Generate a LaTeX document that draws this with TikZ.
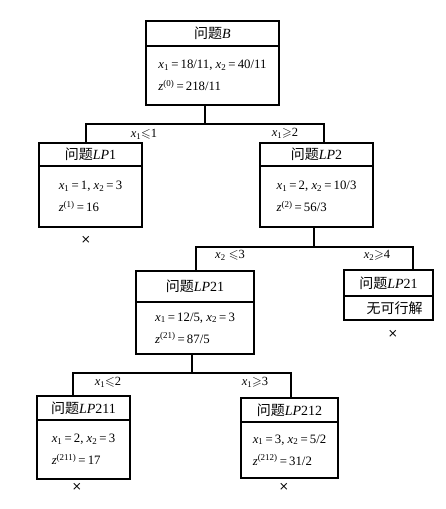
\documentclass[tikz,border=0pt]{standalone}
\usepackage{fontspec}
\usepackage{amssymb}
\setmainfont{Liberation Serif}
\newfontfamily\cjk{Noto Sans CJK SC}
\newfontfamily\djsans{DejaVu Sans}
\newcommand{\vx}[1]{\textit{x}\textsubscript{#1}}
\newcommand{\vz}[1]{\textit{z}\textsuperscript{(#1)}}
\newcommand{\eqs}{\,=\,}
\newcommand{\wt}{{\cjk 问题}}
\begin{document}
\begin{tikzpicture}[x=1pt,y=-1pt,
  box/.style={draw, line width=1.1pt, inner sep=0pt, font=\fontsize{14}{22}\selectfont},
  body/.style={box, align=left, font=\fontsize{12.8}{22}\selectfont},
  link/.style={line width=1.1pt},
  lab/.style={inner sep=0pt, font=\fontsize{12.5}{14}\selectfont},
  cut/.style={inner sep=0pt, font=\djsans\fontsize{12}{14}\selectfont}]
\useasboundingbox (0,0) rectangle (445,509);
% root
\node[box, minimum width=133, minimum height=25] (Bt) at (212.5,33.5) {\wt\textit{B}};
\node[body, minimum width=133, minimum height=59] (Bb) at (212.5,75.5) {\vx{1}\eqs18/11, \vx{2}\eqs40/11\\ \vz{0}\eqs218/11};
% LP1
\node[box, minimum width=103, minimum height=23] (L1t) at (90.5,154.5) {\wt\textit{LP}1};
\node[body, minimum width=103, minimum height=61] (L1b) at (90.5,196.5) {\vx{1}\eqs1, \vx{2}\eqs3\\ \vz{1}\eqs16};
% LP2
\node[box, minimum width=113, minimum height=23] (L2t) at (316.5,154.5) {\wt\textit{LP}2};
\node[body, minimum width=113, minimum height=61] (L2b) at (316.5,196.5) {\vx{1}\eqs2, \vx{2}\eqs10/3\\ \vz{2}\eqs56/3};
% LP21
\node[box, minimum width=118, minimum height=31] (L21t) at (195,286.5) {\wt\textit{LP}21};
\node[body, minimum width=118, minimum height=52] (L21b) at (195,328) {\vx{1}\eqs12/5, \vx{2}\eqs3\\ \vz{21}\eqs87/5};
% LP21 infeasible
\node[box, minimum width=89, minimum height=26] (L22t) at (388.5,283) {\wt\textit{LP}21};
\node[box, minimum width=89, minimum height=24] (L22b) at (388.5,308) {\hspace{12pt}{\cjk 无可行解}};
% LP211
\node[box, minimum width=93, minimum height=24] (L211t) at (83.5,408) {\wt\textit{LP}211};
\node[body, minimum width=93, minimum height=59] (L211b) at (83.5,449.5) {\vx{1}\eqs2, \vx{2}\eqs3\\ \vz{211}\eqs17};
% LP212
\node[box, minimum width=97, minimum height=24] (L212t) at (289.5,410) {\wt\textit{LP}212};
\node[body, minimum width=97, minimum height=56] (L212b) at (289.5,450) {\vx{1}\eqs3, \vx{2}\eqs5/2\\ \vz{212}\eqs31/2};
% junctions
\coordinate (j0) at (205,124);
\coordinate (j1) at (314,247);
\coordinate (j2) at (192,373);
% connectors
\draw[link] (Bb.south -| j0) -- (j0);
\draw[link] (L1t.north -| 86,0) |- (j0) -| (L2t.north -| 324,0);
\draw[link] (L2b.south -| j1) -- (j1);
\draw[link] (L21t.north -| 196,0) |- (j1) -| (L22t.north -| 413,0);
\draw[link] (L21b.south -| j2) -- (j2);
\draw[link] (L211t.north -| 73,0) |- (j2) -| (L212t.north -| 291,0);
% labels
\node[lab] (c1) at (144,134) {\vx{1}$\leqslant$1};
\node[lab] (c2) at (285,133) {\vx{1}$\geqslant$2};
\node[lab] (c3) at (230,255) {\vx{2} $\leqslant$3};
\node[lab] (c4) at (377,255) {\vx{2}$\geqslant$4};
\node[lab] (c5) at (108,382) {\vx{1}$\leqslant$2};
\node[lab] (c6) at (255,382) {\vx{1}$\geqslant$3};
% cut marks
\node[cut] (k1) at (86,240) {×};
\node[cut] (k2) at (393,334) {×};
\node[cut] (k3) at (77,487) {×};
\node[cut] (k4) at (284,487) {×};
\end{tikzpicture}
\end{document}
